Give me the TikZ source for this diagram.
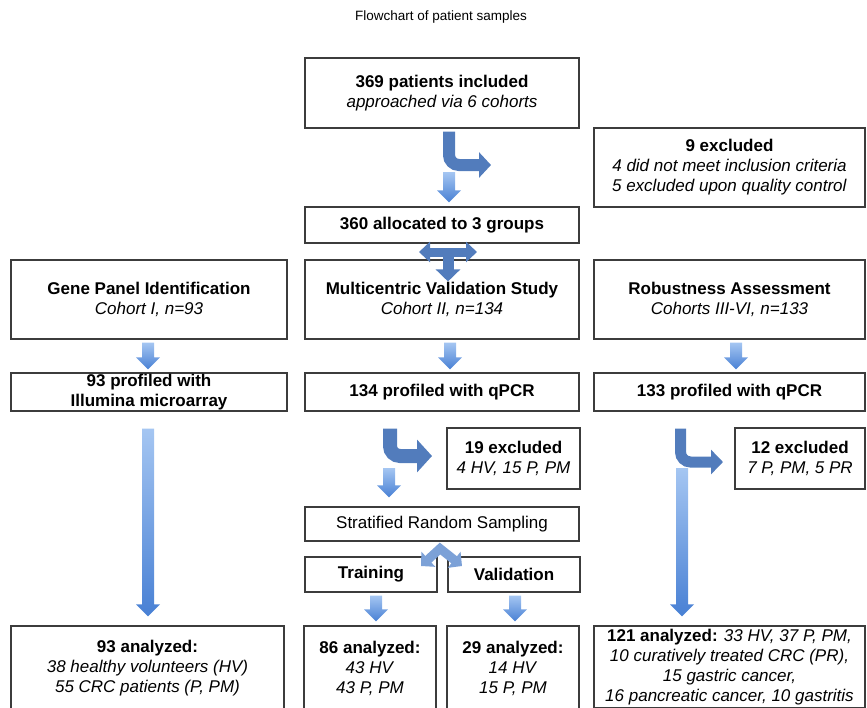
\documentclass[tikz,border=0pt]{standalone}
\usepackage{fontspec}
\setmainfont{Liberation Sans}
\usetikzlibrary{arrows.meta,calc}

\definecolor{arrowlight}{RGB}{165,198,242}
\definecolor{arrowdark}{RGB}{72,128,212}
\definecolor{bentblue}{RGB}{82,124,188}
\definecolor{boxline}{RGB}{60,60,60}

% shaded block arrow pointing down, drawn at the x of its start
\newcommand{\blockarrow}[2]{%
  \shade[top color=arrowlight, bottom color=arrowdark]
    let \p1=(#1), \p2=(#2) in
    (\x1-6pt,\y1) -- (\x1+6pt,\y1) -- (\x1+6pt,\y2+12pt) -- (\x1+12pt,\y2+12pt)
    -- (\x1,\y2) -- (\x1-12pt,\y2+12pt) -- (\x1-6pt,\y2+12pt) -- cycle;}

\tikzset{
  box/.style={draw=boxline, line width=1.1pt, align=center, inner xsep=4pt, inner ysep=0pt,
    font=\fontsize{17}{20}\selectfont},
  bent/.style={draw=bentblue, line width=#1, rounded corners=10pt},
}

\begin{document}
\begin{tikzpicture}[line join=miter, x=1pt, y=-1pt]
    \clip (0,0) rectangle (867,707);
    \node[font=\fontsize{13.5}{16}\selectfont] (title) at (441,17) {Flowchart of patient samples};
    % top of the flow
    \node[box, minimum width=274pt, minimum height=70pt] (incl) at (442,93)
        {\textbf{369 patients included}\\\textit{approached via 6 cohorts}};
    \node[box, minimum width=271pt, minimum height=79pt] (exclA) at (729.5,167.5)
        {\textbf{9 excluded}\\\textit{4 did not meet inclusion criteria}\\\textit{5 excluded upon quality control}};
    \node[box, minimum width=274pt, minimum height=36pt] (alloc) at (442,225) {\textbf{360 allocated to 3 groups}};
    % the three groups
    \node[box, minimum width=276pt, minimum height=79pt] (gene) at (149,299.5)
        {\textbf{Gene Panel Identification}\\\textit{Cohort I, n=93}};
    \node[box, minimum width=274pt, minimum height=79pt] (multi) at (442,299.5)
        {\textbf{Multicentric Validation Study}\\\textit{Cohort II, n=134}};
    \node[box, minimum width=271pt, minimum height=79pt] (robust) at (729.5,299.5)
        {\textbf{Robustness Assessment}\\\textit{Cohorts III-VI, n=133}};
    \node[box, minimum width=276pt, minimum height=38pt] (profA) at (149,392)
        {\textbf{93 profiled with}\\\textbf{Illumina microarray}};
    \node[box, minimum width=274pt, minimum height=38pt] (profB) at (442,392) {\textbf{134 profiled with qPCR}};
    \node[box, minimum width=271pt, minimum height=38pt] (profC) at (729.5,392) {\textbf{133 profiled with qPCR}};
    \node[box, minimum width=133pt, minimum height=61pt] (exclB) at (513.5,458.5)
        {\textbf{19 excluded}\\\textit{4 HV, 15 P, PM}};
    \node[box, minimum width=130pt, minimum height=61pt] (exclC) at (800,458.5)
        {\textbf{12 excluded}\\\textit{7 P, PM, 5 PR}};
    \node[box, minimum width=274pt, minimum height=34pt] (strat) at (442,524) {Stratified Random Sampling};
    \node[box, minimum width=132pt, minimum height=35pt] (train) at (371,574.5) {\textbf{Training}};
    \node[box, minimum width=132pt, minimum height=35pt] (valid) at (514,574.5) {\textbf{Validation}};
    % analyzed
    \node[box, minimum width=273pt, minimum height=84pt] (anA) at (147.5,668)
        {\textbf{93 analyzed:}\\\textit{38 healthy volunteers (HV)}\\\textit{55 CRC patients (P, PM)}};
    \node[box, minimum width=132pt, minimum height=84pt] (anB) at (370,668)
        {\textbf{86 analyzed:}\\\textit{43 HV}\\\textit{43 P, PM}};
    \node[box, minimum width=132pt, minimum height=84pt] (anC) at (513,668)
        {\textbf{29 analyzed:}\\\textit{14 HV}\\\textit{15 P, PM}};
    \node[box, minimum width=271pt, minimum height=82pt] (anD) at (729.5,667)
        {\textbf{121 analyzed:} \textit{33 HV, 37 P, PM,}\\\textit{10 curatively treated CRC (PR),}\\
         \textit{15 gastric cancer,}\\\textit{16 pancreatic cancer, 10 gastritis}};

    % straight arrows
    \coordinate (split1) at (449,172);
    \coordinate (split2) at (389,468);
    \coordinate (split3) at (682,468);
    \blockarrow{split1}{[yshift=4pt]alloc.north}
    \blockarrow{[xshift=-1pt,yshift=-3pt]gene.south}{[yshift=3pt]profA.north}
    \blockarrow{[xshift=8pt,yshift=-3pt]multi.south}{[yshift=3pt]profB.north}
    \blockarrow{[xshift=6.5pt,yshift=-3pt]robust.south}{[yshift=3pt]profC.north}
    \blockarrow{[xshift=-1pt,yshift=-17pt]profA.south}{[yshift=9pt]anA.north}
    \blockarrow{split2}{[yshift=9pt]strat.north}
    \blockarrow{[xshift=5pt,yshift=-3pt]train.south}{[yshift=4pt]anB.north}
    \blockarrow{[xshift=1pt,yshift=-3pt]valid.south}{[yshift=4pt]anC.north}
    \blockarrow{split3}{[yshift=9pt]anD.north}

    % bent arrows towards the excluded
    \coordinate (exit1) at (491,165);
    \coordinate (exit2) at (432,456);
    \coordinate (exit3) at (723,462);
    \draw[bent=12pt, -{Triangle[width=25pt,length=12pt]}] ([xshift=7pt,yshift=-3pt]incl.south) |- (exit1);
    \draw[bent=14pt, -{Triangle[width=32pt,length=15pt]}] ([xshift=-52pt,yshift=-17pt]profB.south) |- (exit2);
    \draw[bent=11pt, -{Triangle[width=24pt,length=12pt]}] ([xshift=-49pt,yshift=-17pt]profC.south) |- (exit3);

    % splitting arrows
    \coordinate (tleft) at (419,252);
    \coordinate (tright) at (477,252);
    \coordinate (chevL) at (421,566);
    \coordinate (chevR) at (462,566);
    \draw[line width=9pt, draw=bentblue, {Triangle[width=20pt,length=11pt]}-{Triangle[width=20pt,length=11pt]}] (tleft) -- (tright);
    \draw[line width=11pt, draw=bentblue, -{Triangle[width=24pt,length=12pt]}] ([xshift=6pt,yshift=-9pt]alloc.south) -- ([xshift=6pt,yshift=-22pt]multi.north);
    \draw[line width=9pt, draw=arrowlight!50!bentblue, {Triangle[width=20pt,length=10pt]}-{Triangle[width=20pt,length=10pt]}]
        (chevL) -- ([xshift=-2pt,yshift=-7pt]strat.south) -- (chevR);
\end{tikzpicture}
\end{document}
